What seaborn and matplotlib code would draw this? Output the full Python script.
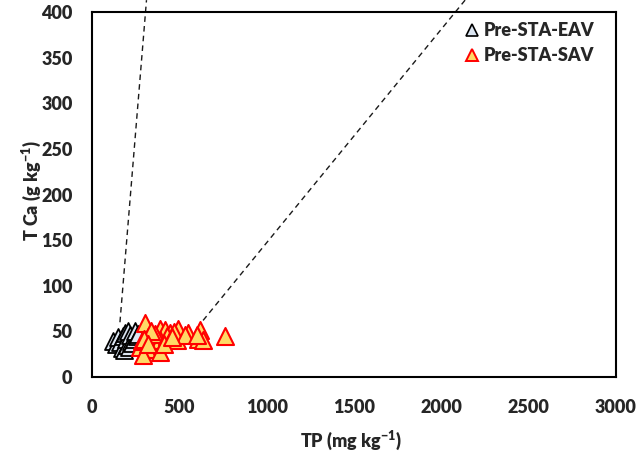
import pandas as pd
import seaborn as sns
import matplotlib.pyplot as plt
from matplotlib.lines import Line2D

# Pre-STA-EAV points (TP mg/kg, TCa g/kg)
eav_tp = [120, 140, 150, 160, 170, 175, 185, 190, 195, 200, 205, 210, 220, 225, 230, 240, 245, 255, 265]
eav_ca = [40, 36, 44, 38, 32, 45, 30, 48, 42, 35, 50, 33, 46, 40, 37, 42, 50, 45, 47]

# Pre-STA-SAV points
sav_tp = [303, 389, 418, 494, 551, 618, 761, 322, 389, 447, 485, 608, 637,
          275, 313, 294, 389, 284, 360, 430, 470, 530, 600, 340, 410, 300, 320, 460]
sav_ca = [59, 53, 52, 53, 48, 51, 45, 44, 41, 48, 41, 42, 41,
          33, 31, 24, 27, 39, 47, 45, 49, 46, 46, 50, 36, 42, 36, 44]

# dashed reference lines (start, end)
line1_x = [160, 312]
line1_y = [60, 413]
line2_x = [636, 2136]
line2_y = [62, 413]

xticks = [0, 500, 1000, 1500, 2000, 2500, 3000]
yticks = list(range(0, 401, 50))

sns.set_theme(style="white")
plt.rcParams['font.family'] = ['Lato', 'DejaVu Sans']
plt.rcParams['font.weight'] = 'heavy'
plt.rcParams['mathtext.fontset'] = 'custom'
plt.rcParams['mathtext.rm'] = 'Lato'
plt.rcParams['mathtext.bf'] = 'Lato:heavy'

W = 'heavy'

eav = pd.DataFrame({'TP': eav_tp, 'TCa': eav_ca})
sav = pd.DataFrame({'TP': sav_tp, 'TCa': sav_ca})

fig = plt.figure(figsize=(6.44, 4.54), dpi=100)
ax = fig.add_axes([92 / 644, 1 - 377 / 454, 524 / 644, 365 / 454])

sns.scatterplot(data=eav, x='TP', y='TCa', ax=ax, marker='^', s=150,
                color='#dce6f2', edgecolor='black', linewidth=1.3, zorder=3)
sns.scatterplot(data=sav, x='TP', y='TCa', ax=ax, marker='^', s=150,
                color='#ffd966', edgecolor='red', linewidth=1.5, zorder=4)

ax.plot(line1_x, line1_y, 'k--', lw=1, dashes=(4, 3), clip_on=False, zorder=2)
ax.plot(line2_x, line2_y, 'k--', lw=1, dashes=(4, 3), clip_on=False, zorder=2)

ax.set_xlim(0, 3000)
ax.set_ylim(0, 400)
ax.set_xticks(xticks)
ax.set_yticks(yticks)
ax.tick_params(direction='in', length=6, width=1.2, color='black',
               labelsize=13, pad=14)
ax.tick_params(axis='x', pad=16)
for lab in ax.get_xticklabels() + ax.get_yticklabels():
    lab.set_fontweight(W)

for sp in ax.spines.values():
    sp.set_color('black')
    sp.set_linewidth(1.5)

ax.set_xlabel(r'TP (mg kg$^{\mathbf{-1}}$)', fontsize=13, fontweight=W)
ax.set_ylabel(r'T Ca (g kg$^{\mathbf{-1}}$)', fontsize=13, fontweight=W)
ax.xaxis.set_label_coords(0.495, -0.14)
ax.yaxis.set_label_coords(-0.094, 0.51)

handles = [
    Line2D([], [], marker='^', ls='', markersize=9, markerfacecolor='#dce6f2',
           markeredgecolor='black', markeredgewidth=1.2, label='Pre-STA-EAV'),
    Line2D([], [], marker='^', ls='', markersize=9, markerfacecolor='#ffd966',
           markeredgecolor='red', markeredgewidth=1.4, label='Pre-STA-SAV'),
]
ax.legend(handles=handles, loc='upper right', bbox_to_anchor=(1 - 10 / 524, 1.005),
          frameon=False, prop={'weight': W, 'size': 13}, handletextpad=0.15,
          labelspacing=0.45, borderaxespad=0.25, handlelength=1.0)

fig.savefig('out.png', dpi=100)
